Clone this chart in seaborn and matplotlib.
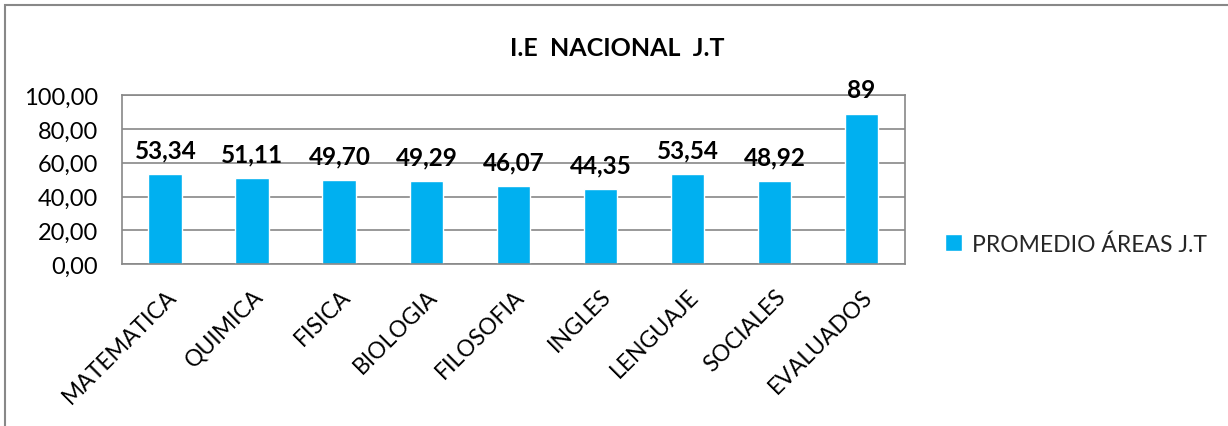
import matplotlib
matplotlib.use("Agg")
import matplotlib.pyplot as plt
from matplotlib.patches import Rectangle
import seaborn as sns
import pandas as pd

categories = ["MATEMATICA", "QUIMICA", "FISICA", "BIOLOGIA", "FILOSOFIA",
              "INGLES", "LENGUAJE", "SOCIALES", "EVALUADOS"]
values = [53.34, 51.11, 49.70, 49.29, 46.07, 44.35, 53.54, 48.92, 89]
value_labels = ["53,34", "51,11", "49,70", "49,29", "46,07",
                "44,35", "53,54", "48,92", "89"]
series_name = "PROMEDIO ÁREAS J.T"
title = "I.E  NACIONAL  J.T"
yticks = [0, 20, 40, 60, 80, 100]
ytick_labels = ["0,00", "20,00", "40,00", "60,00", "80,00", "100,00"]

sns.set_theme(style="white")
plt.rcParams["font.family"] = ["Lato", "DejaVu Sans"]

df = pd.DataFrame({"area": categories, "valor": values, "serie": series_name})

fig = plt.figure(figsize=(12.28, 4.27), dpi=100)
ax = fig.add_axes([0.0993, 0.379, 0.6377, 0.396])

bar_color = "#00B0F0"
sns.barplot(data=df, x="area", y="valor", hue="serie", palette=[bar_color],
            width=0.39, ax=ax, legend=True, saturation=1)

ax.set_ylim(0, 100)
ax.set_yticks(yticks)
ax.set_yticklabels(ytick_labels, fontsize=17, color="black")
ax.set_xlim(-0.5, len(categories) - 0.5)
ax.set_xticks(range(len(categories)))
ax.set_xticklabels(categories, rotation=45, ha="right", rotation_mode="anchor",
                   fontsize=16.5, color="black")
ax.tick_params(axis="x", pad=15, length=0)
ax.tick_params(axis="y", pad=17, length=0)
ax.set_xlabel("")
ax.set_ylabel("")

ax.yaxis.grid(True, color="#888888", linewidth=1.2)
ax.set_axisbelow(True)
for side in ["left", "right", "top", "bottom"]:
    ax.spines[side].set_visible(True)
    ax.spines[side].set_color("#888888")
    ax.spines[side].set_linewidth(1.2)

for i, (v, lab) in enumerate(zip(values, value_labels)):
    ax.text(i, v + 7.5, lab, ha="center", va="bottom", fontsize=17.5,
            fontweight="bold", color="black")

fig.text(617 / 1228, 1 - 48 / 427, title, ha="center", va="center",
         fontsize=18, fontweight="bold", color="black")

handles, labels = ax.get_legend_handles_labels()
ax.legend(handles, labels, loc="center left", bbox_to_anchor=(1.025, 0.12),
          frameon=False, fontsize=16.5, handlelength=0.75, handleheight=0.75,
          handletextpad=0.4)

# outer chart frame (top and left edges)
fig.patches.append(Rectangle((5 / 1228, -0.1), 1.2, (427 - 6) / 427 + 0.1,
                             transform=fig.transFigure, fill=False,
                             edgecolor="#888888", linewidth=1.5))

fig.savefig("out.png", dpi=100, facecolor="white")
